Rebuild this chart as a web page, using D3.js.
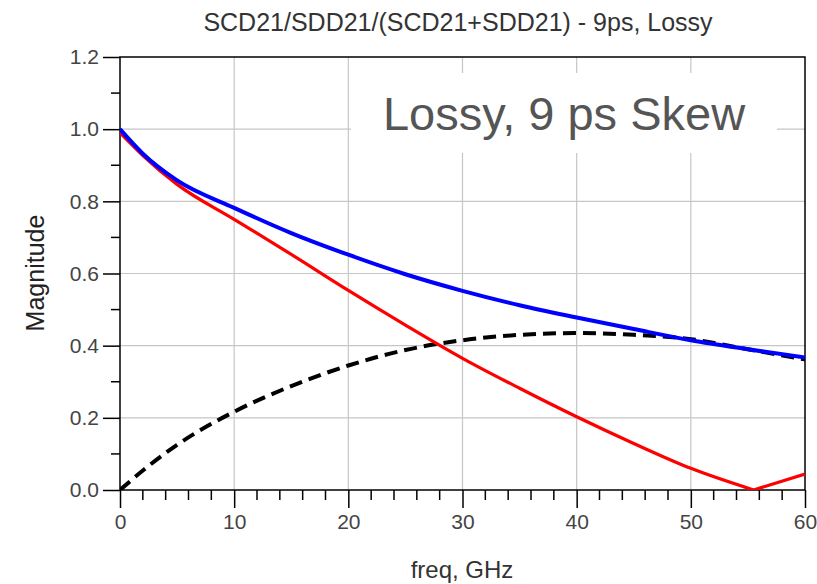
<!DOCTYPE html>
<html>
<head>
<meta charset="utf-8">
<script src="https://cdn.jsdelivr.net/npm/d3@7"></script>
<style>
  body { margin: 0; background: #fff; }
  svg { display: block; font-family: "Liberation Sans", Arial, sans-serif; }
</style>
</head>
<body>
<svg id="chart" width="817" height="584"></svg>
<script>
const TITLE = 'SCD21/SDD21/(SCD21+SDD21) - 9ps, Lossy';
const NOTE = 'Lossy, 9 ps Skew';
const X_LABEL = 'freq, GHz';
const Y_LABEL = 'Magnitude';

const xTicks = [0, 10, 20, 30, 40, 50, 60];
const yTicks = [0.0, 0.2, 0.4, 0.6, 0.8, 1.0, 1.2];

// sum (blue), SDD21-like (red), SCD21-like (black dashed)
const freq = [0, 2, 5, 10, 15, 20, 25, 30, 35, 40, 45, 50, 55, 60];
const blue = [1.0, 0.932, 0.858, 0.782, 0.712, 0.652, 0.598, 0.552, 0.512, 0.478, 0.446, 0.415, 0.39, 0.367];
const black = [0.0, 0.054, 0.125, 0.217, 0.288, 0.345, 0.388, 0.415, 0.43, 0.435, 0.43, 0.418, 0.39, 0.362];

const redFreq = [0, 2, 5, 10, 15, 20, 25, 30, 35, 40, 45, 50, 55.5, 60];
const red = [0.99, 0.927, 0.847, 0.75, 0.653, 0.553, 0.457, 0.365, 0.282, 0.203, 0.129, 0.06, 0.0, 0.044];

const M = { left: 120, right: 805, top: 57, bottom: 490 };

const svg = d3.select('#chart');

const x = d3.scaleLinear().domain([0, 60]).range([M.left, M.right]);
const y = d3.scaleLinear().domain([0, 1.2]).range([M.bottom, M.top]);

// grid
const grid = svg.append('g').attr('stroke', '#c6c6c6').attr('stroke-width', 1.2);
xTicks.slice(1, -1).forEach(t => {
    grid.append('line').attr('x1', x(t)).attr('x2', x(t)).attr('y1', M.top).attr('y2', M.bottom);
});
yTicks.slice(1, -1).forEach(t => {
    grid.append('line').attr('x1', M.left).attr('x2', M.right).attr('y1', y(t)).attr('y2', y(t));
});

// annotation backing box covers grid
svg.append('rect')
    .attr('x', 351).attr('y', 73).attr('width', 426).attr('height', 80)
    .attr('fill', '#fff');

svg.append('text')
    .attr('x', 564).attr('y', 130)
    .attr('text-anchor', 'middle')
    .attr('font-size', 47)
    .attr('fill', '#555')
    .text(NOTE);

// axes
const xAxis = d3.axisBottom(x).tickValues(xTicks).tickSize(18).tickPadding(6).tickFormat(d3.format('d'));
const yAxis = d3.axisLeft(y).tickValues(yTicks).tickSize(17).tickPadding(4).tickFormat(d3.format('.1f'));

const gx = svg.append('g').attr('transform', `translate(0,${M.bottom})`).call(xAxis);
const gy = svg.append('g').attr('transform', `translate(${M.left},0)`).call(yAxis);

[gx, gy].forEach(g => {
    g.select('.domain').remove();
    g.selectAll('line').attr('stroke', '#000').attr('stroke-width', 1.5);
    g.selectAll('text')
        .attr('font-size', 21)
        .attr('font-family', '"Liberation Sans", Arial, sans-serif')
        .attr('fill', '#444');
});

// minor ticks
const minor = svg.append('g').attr('stroke', '#000').attr('stroke-width', 1.5);
d3.range(0, 61, 2).filter(v => v % 10 !== 0).forEach(v => {
    minor.append('line').attr('x1', x(v)).attr('x2', x(v)).attr('y1', M.bottom).attr('y2', M.bottom + 10);
});
d3.range(1, 12, 2).map(v => v / 10).forEach(v => {
    minor.append('line').attr('x1', M.left).attr('x2', M.left - 9).attr('y1', y(v)).attr('y2', y(v));
});

// frame
svg.append('rect')
    .attr('x', M.left).attr('y', M.top)
    .attr('width', M.right - M.left).attr('height', M.bottom - M.top)
    .attr('fill', 'none').attr('stroke', '#000').attr('stroke-width', 1.5);

// curves
svg.append('clipPath').attr('id', 'clip')
    .append('rect').attr('x', M.left).attr('y', M.top - 2)
    .attr('width', M.right - M.left).attr('height', M.bottom - M.top + 2);

const plot = svg.append('g').attr('clip-path', 'url(#clip)');

const mk = d3.line().x(d => x(d[0])).y(d => y(d[1])).curve(d3.curveMonotoneX);

plot.append('path')
    .attr('d', mk(d3.zip(freq, black)))
    .attr('fill', 'none').attr('stroke', '#000')
    .attr('stroke-width', 4).attr('stroke-dasharray', '13,7');

// red has a sharp notch at its minimum, so draw both sides separately
const redPts = d3.zip(redFreq, red);
const minIdx = d3.minIndex(red);
[redPts.slice(0, minIdx + 1), redPts.slice(minIdx)].forEach(seg => {
    plot.append('path')
        .attr('d', mk(seg))
        .attr('fill', 'none').attr('stroke', '#ff0000')
        .attr('stroke-width', 3.2);
});

plot.append('path')
    .attr('d', mk(d3.zip(freq, blue)))
    .attr('fill', 'none').attr('stroke', '#0000ff')
    .attr('stroke-width', 4);

// labels
svg.append('text')
    .attr('x', 458).attr('y', 31)
    .attr('text-anchor', 'middle')
    .attr('font-size', 25)
    .attr('fill', '#333')
    .text(TITLE);

svg.append('text')
    .attr('x', 462).attr('y', 578)
    .attr('text-anchor', 'middle')
    .attr('font-size', 24)
    .attr('fill', '#333')
    .text(X_LABEL);

svg.append('text')
    .attr('transform', `translate(44,273) rotate(-90)`)
    .attr('text-anchor', 'middle')
    .attr('font-size', 25)
    .attr('fill', '#222')
    .text(Y_LABEL);
</script>
</body>
</html>
